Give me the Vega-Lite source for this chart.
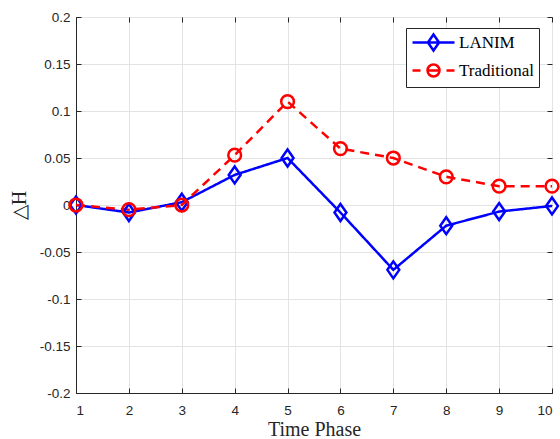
{
  "$schema": "https://vega.github.io/schema/vega-lite/v6.json",
  "width": 476,
  "height": 376,
  "autosize": {"type": "none"},
  "padding": {"left": 76, "top": 17, "right": 8, "bottom": 46},
  "background": "white",
  "config": {
    "view": {"stroke": "#262626", "strokeWidth": 1},
    "axis": {
      "gridColor": "#e3e3e3",
      "gridWidth": 1,
      "domainColor": "#262626",
      "tickColor": "#262626",
      "tickSize": -5,
      "labelFont": "Liberation Sans",
      "labelFontSize": 13.5,
      "labelColor": "#262626",
      "titleFont": "Liberation Serif",
      "titleFontWeight": "normal",
      "titleFontSize": 20,
      "titleColor": "#262626"
    }
  },
  "data": {
    "values": [
      {"t": 1, "v": 0, "s": "LANIM"},
      {"t": 2, "v": -0.008, "s": "LANIM"},
      {"t": 3, "v": 0.003, "s": "LANIM"},
      {"t": 4, "v": 0.032, "s": "LANIM"},
      {"t": 5, "v": 0.05, "s": "LANIM"},
      {"t": 6, "v": -0.008, "s": "LANIM"},
      {"t": 7, "v": -0.069, "s": "LANIM"},
      {"t": 8, "v": -0.022, "s": "LANIM"},
      {"t": 9, "v": -0.007, "s": "LANIM"},
      {"t": 10, "v": -0.001, "s": "LANIM"},
      {"t": 1, "v": 0, "s": "Traditional"},
      {"t": 2, "v": -0.005, "s": "Traditional"},
      {"t": 3, "v": 0, "s": "Traditional"},
      {"t": 4, "v": 0.053, "s": "Traditional"},
      {"t": 5, "v": 0.11, "s": "Traditional"},
      {"t": 6, "v": 0.06, "s": "Traditional"},
      {"t": 7, "v": 0.05, "s": "Traditional"},
      {"t": 8, "v": 0.03, "s": "Traditional"},
      {"t": 9, "v": 0.02, "s": "Traditional"},
      {"t": 10, "v": 0.02, "s": "Traditional"}
    ]
  },
  "layer": [
    {
      "encoding": {
        "x": {
          "field": "t", "type": "quantitative",
          "scale": {"domain": [1, 10], "nice": false},
          "axis": {"values": [1,2,3,4,5,6,7,8,9,10], "title": "Time Phase", "titlePadding": 3, "labelPadding": 15}
        },
        "y": {
          "field": "v", "type": "quantitative",
          "scale": {"domain": [-0.2, 0.2], "nice": false},
          "axis": {"values": [-0.2,-0.15,-0.1,-0.05,0,0.05,0.1,0.15,0.2], "labelExpr": "replace(format(datum.value, '~g'), '\u2212', '-')", "labelOverlap": false, "title": "△H", "titlePadding": 10, "labelPadding": 11}
        },
        "color": {
          "field": "s", "type": "nominal",
          "scale": {"domain": ["LANIM", "Traditional"], "range": ["#0000ff", "#ff0000"]},
          "legend": null
        }
      },
      "layer": [
        {
          "mark": {"type": "line", "strokeWidth": 2.5},
          "encoding": {
            "strokeDash": {
              "field": "s", "type": "nominal",
              "scale": {"domain": ["LANIM", "Traditional"], "range": [[1, 0], [9, 6]]},
              "legend": null
            }
          }
        },
        {
          "mark": {"type": "point", "filled": false, "strokeWidth": 2.5, "size": 289, "opacity": 1},
          "encoding": {
            "shape": {
              "field": "s", "type": "nominal",
              "scale": {"domain": ["LANIM", "Traditional"], "range": ["M0,-1L0.7,0L0,1L-0.7,0Z", "M-0.75,0A0.75,0.75 0 1,1 0.75,0A0.75,0.75 0 1,1 -0.75,0Z"]},
              "legend": null
            }
          }
        }
      ]
    },
    {
      "mark": {"type": "point", "opacity": 0, "filled": false},
      "encoding": {
        "x": {
          "field": "t", "type": "quantitative",
          "scale": {"domain": [1, 10], "nice": false},
          "axis": {"orient": "top", "values": [1,2,3,4,5,6,7,8,9,10], "labels": false, "title": null, "grid": false, "domain": false}
        },
        "y": {
          "field": "v", "type": "quantitative",
          "scale": {"domain": [-0.2, 0.2], "nice": false},
          "axis": {"orient": "right", "values": [-0.2,-0.15,-0.1,-0.05,0,0.05,0.1,0.15,0.2], "labels": false, "title": null, "grid": false, "domain": false}
        },
        "color": {
          "field": "s", "type": "nominal",
          "scale": {"domain": ["LANIM", "Traditional"], "range": ["#0000ff", "#ff0000"]},
          "legend": {
            "title": null,
            "orient": "none",
            "legendX": 330,
            "legendY": 11,
            "labelFont": "Liberation Serif",
            "labelFontSize": 17,
            "labelColor": "#000000",
            "labelOffset": 29,
            "strokeColor": "#262626",
            "fillColor": "white",
            "padding": 5,
            "symbolSize": 256,
            "symbolStrokeWidth": 2.5,
            "symbolOpacity": 1,
            "symbolFillColor": "transparent",
            "rowPadding": 3
          }
        },
        "shape": {
          "field": "s", "type": "nominal",
          "scale": {"domain": ["LANIM", "Traditional"], "range": ["M-1,0L4.25,0M1.625,-1L2.325,0L1.625,1L0.925,0Z", "M-1,0L0,0M0.875,0A0.75,0.75 0 1,1 2.375,0A0.75,0.75 0 1,1 0.875,0ZM0.875,0L2.375,0M3.25,0L4.25,0"]},
          "legend": {
            "title": null,
            "orient": "none",
            "legendX": 330,
            "legendY": 11,
            "labelFont": "Liberation Serif",
            "labelFontSize": 17,
            "labelColor": "#000000",
            "labelOffset": 29,
            "strokeColor": "#262626",
            "fillColor": "white",
            "padding": 5,
            "symbolSize": 256,
            "symbolStrokeWidth": 2.5,
            "symbolOpacity": 1,
            "symbolFillColor": "transparent",
            "rowPadding": 3
          }
        }
      }
    }
  ],
  "resolve": {"scale": {"x": "independent", "y": "independent", "color": "independent", "shape": "independent"}}
}
